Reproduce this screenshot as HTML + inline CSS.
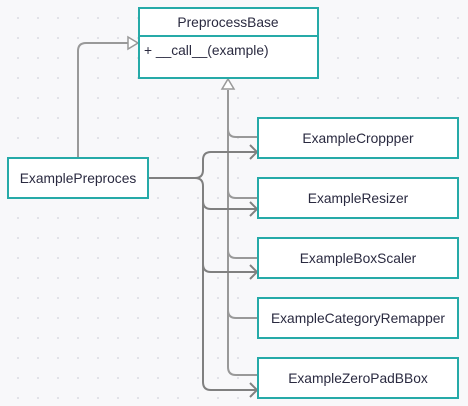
<!DOCTYPE html>
<html><head><meta charset="utf-8"><style>
html,body{margin:0;padding:0;background:#f8f8fa;}
svg{display:block;}
text{font-family:"Liberation Sans",sans-serif;font-size:13.8px;fill:#2a2a40;}
</style></head><body>
<svg width="468" height="406" xmlns="http://www.w3.org/2000/svg">
<defs>
<pattern id="d" width="20" height="20" patternUnits="userSpaceOnUse" x="8" y="8">
<circle cx="10" cy="10" r="1" fill="#dcdce2"/></pattern>
</defs>
<rect width="468" height="406" fill="#f8f8fa"/>
<rect width="468" height="406" fill="url(#d)"/>
<g fill="none" stroke="#999" stroke-width="2">
<path d="M78 158 V51 Q78 43 86 43 H128"/>
<path d="M228 90 V367 Q228 375 236 375 H258"/>
<path d="M228 129 Q228 137 236 137 H258"/>
<path d="M228 190 Q228 198 236 198 H258"/>
<path d="M228 250 Q228 258 236 258 H258"/>
<path d="M228 310 Q228 318 236 318 H258"/>
</g>
<path d="M128 37 L138 43 L128 49 Z" fill="#fff" stroke="#999" stroke-width="1.5"/>
<path d="M222 89 L228 79 L234 89 Z" fill="#fff" stroke="#999" stroke-width="1.5"/>
<g fill="none" stroke="#808080" stroke-width="2">
<path d="M148 178 H195 Q203 178 203 170 V160 Q203 152 211 152 H257"/>
<path d="M195 178 Q203 178 203 186 V382 Q203 390 211 390 H257"/>
<path d="M203 201 Q203 209 211 209 H257"/>
<path d="M203 264 Q203 272 211 272 H257"/>
<path d="M250 145 L257 152 L250 159"/>
<path d="M250 202 L257 209 L250 216"/>
<path d="M250 265 L257 272 L250 279"/>
<path d="M250 383 L257 390 L250 397"/>
</g>
<g fill="#fff" stroke="#26aaa8" stroke-width="2">
<rect x="139" y="8" width="179" height="70"/>
<line x1="139" y1="36" x2="318" y2="36"/>
<rect x="8" y="158" width="140" height="40"/>
<rect x="258" y="118" width="200" height="40"/>
<rect x="258" y="178" width="200" height="40"/>
<rect x="258" y="238" width="200" height="40"/>
<rect x="258" y="298" width="200" height="40"/>
<rect x="258" y="358" width="200" height="40"/>
</g>
<text x="228" y="27" text-anchor="middle">PreprocessBase</text>
<text x="144" y="55">+ __call__(example)</text>
<text x="78" y="183" text-anchor="middle">ExamplePreproces</text>
<text x="358" y="143" text-anchor="middle">ExampleCroppper</text>
<text x="358" y="203" text-anchor="middle">ExampleResizer</text>
<text x="358" y="263" text-anchor="middle">ExampleBoxScaler</text>
<text x="358" y="323" text-anchor="middle">ExampleCategoryRemapper</text>
<text x="358" y="383" text-anchor="middle">ExampleZeroPadBBox</text>
</svg>
</body></html>
